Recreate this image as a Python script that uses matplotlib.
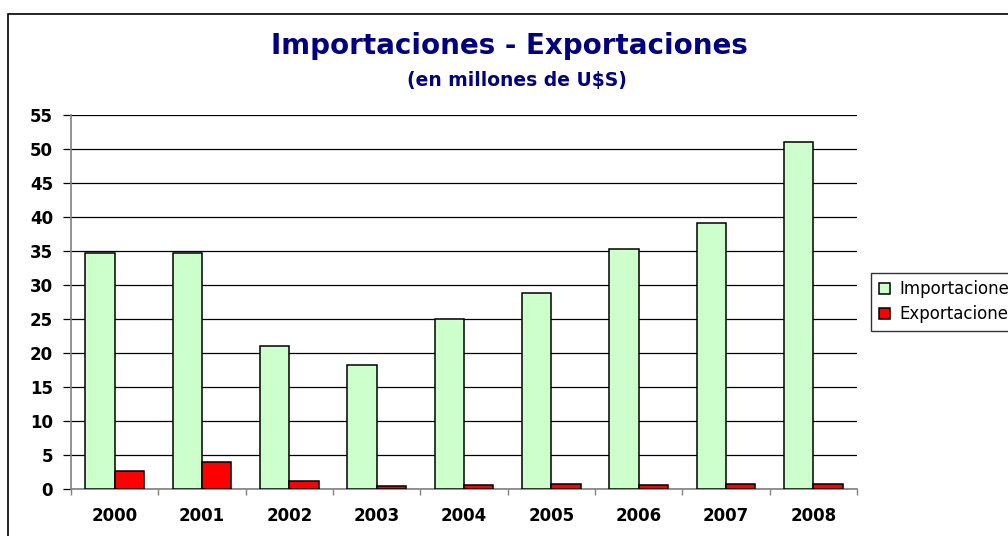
import numpy as np
import matplotlib
matplotlib.use("Agg")
import matplotlib.pyplot as plt
from matplotlib.patches import Rectangle

years = ["2000", "2001", "2002", "2003", "2004", "2005", "2006", "2007", "2008"]
importaciones = [34.7, 34.7, 21.1, 18.2, 25.0, 28.8, 35.3, 39.1, 51.0]
exportaciones = [2.7, 4.0, 1.2, 0.4, 0.6, 0.8, 0.6, 0.8, 0.8]
yticks = list(range(0, 56, 5))

plt.rcParams['font.family'] = ['DejaVu Sans']

fig = plt.figure(figsize=(10.08, 5.36), dpi=100)
# outer chart frame, runs off right/bottom edge like the reference
fig.patches.append(Rectangle((0.0079, -0.1), 1.2, 1.0748,
                             transform=fig.transFigure, fill=False,
                             edgecolor='black', lw=1.2))

ax = fig.add_axes([0.0704, 0.0877, 0.7798, 0.6978])
x = np.arange(len(years))
w = 0.336
ax.bar(x - w/2, importaciones, w, color='#ccffcc', edgecolor='black', lw=1.1,
       label='Importaciones', zorder=3)
ax.bar(x + w/2, exportaciones, w, color='#ff0000', edgecolor='black', lw=1.1,
       label='Exportaciones', zorder=3)

ax.set_xlim(-0.5, len(years) - 0.5)
ax.set_ylim(0, 55)
ax.set_yticks(yticks)
ax.set_yticklabels([str(v) for v in yticks], fontweight='bold', fontsize=12)
ax.set_xticks(x)
ax.set_xticklabels(years, fontweight='bold', fontsize=12)
ax.set_xticks(np.arange(-0.5, len(years)), minor=True)
ax.tick_params(axis='x', which='major', length=0, pad=13)
ax.tick_params(axis='x', which='minor', length=4.5, color='#808080', width=1.0)
ax.tick_params(axis='y', length=6, color='black', width=0.9, pad=7)
ax.yaxis.grid(True, color='black', lw=0.9, zorder=0)
ax.set_axisbelow(True)
for s in ['top', 'right']:
    ax.spines[s].set_visible(False)
ax.spines['left'].set_color('#808080')
ax.spines['bottom'].set_color('#808080')
ax.spines['left'].set_linewidth(1.2)
ax.spines['bottom'].set_linewidth(1.2)

fig.text(0.505, 0.8987, "Importaciones - Exportaciones", ha='center', va='baseline',
         fontsize=20, fontweight='bold', color='#000080')
fig.text(0.513, 0.8396, "(en millones de U$S)", ha='center', va='baseline',
         fontsize=13.5, fontweight='bold', color='#000080')

leg = fig.legend(loc='upper left', bbox_to_anchor=(0.8641, 0.4907), borderaxespad=0,
                 fontsize=12, frameon=True, fancybox=False, edgecolor='black',
                 handlelength=0.66, handleheight=0.66, handletextpad=0.6,
                 borderpad=0.45, labelspacing=0.4)
leg.get_frame().set_linewidth(1.0)

fig.savefig("out.png", dpi=100)
